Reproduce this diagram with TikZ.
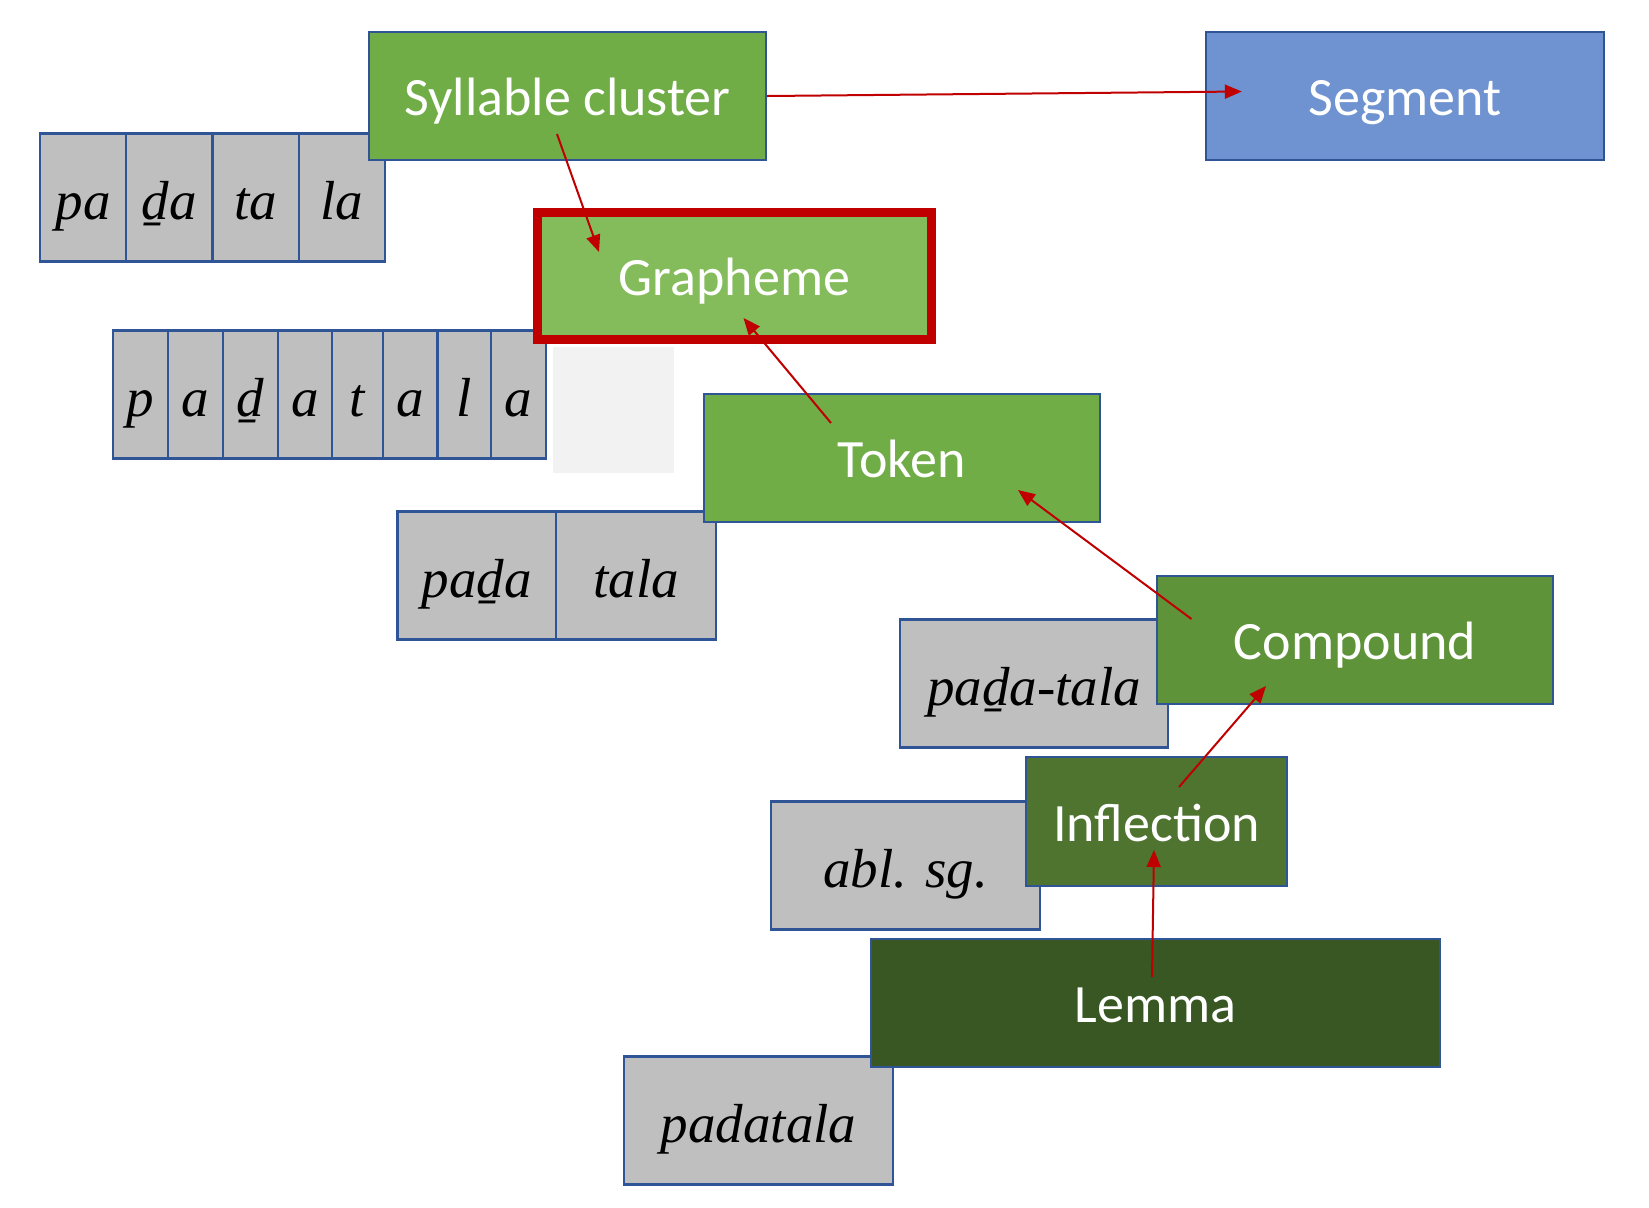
\documentclass[tikz,border=0pt]{standalone}
\usepackage{fontspec}
\setmainfont{Liberation Serif}
\newfontfamily\levelfont{Carlito}
\usetikzlibrary{calc}
\usetikzlibrary{arrows.meta}
\definecolor{edgeBlue}{HTML}{2F5597}
\definecolor{wordGray}{HTML}{BFBFBF}
\definecolor{patchGray}{HTML}{F2F2F2}
\definecolor{linkRed}{HTML}{C00000}
\definecolor{greenMid}{HTML}{70AD47}
\definecolor{greenLight}{HTML}{84BC5B}
\definecolor{greenComp}{HTML}{5E9339}
\definecolor{greenInfl}{HTML}{4E7430}
\definecolor{greenDark}{HTML}{385723}
\definecolor{segBlue}{HTML}{6F92D0}
\tikzstyle{levelnode} = [draw=edgeBlue, line width=1.2pt, rectangle, inner sep=0pt, minimum width=198pt, minimum height=64pt, text=white, font=\levelfont\fontsize{27}{32}\selectfont, text height=19.7pt, text depth=0pt]
\tikzstyle{wordnode} = [draw=edgeBlue, line width=1.2pt, rectangle, fill=wordGray, inner sep=0pt, minimum height=64pt, font=\fontsize{27.5}{33}\selectfont\itshape, text height=22pt, text depth=0pt]
\tikzstyle{link} = [draw=linkRed, line width=1pt, -{Triangle[length=8.5pt,width=7pt]}]

\begin{document}
\begin{tikzpicture}[x=0.5pt, y=-0.5pt]
    \useasboundingbox (0,0) rectangle (1649,1207);

    \node[wordnode, minimum width=43.125pt] (syl_pa) at (83.1,197.5) {pa};
    \node[wordnode, minimum width=43.125pt] (syl_da) at ($(syl_pa)+(86.25,0)$) {ḏa};
    \node[wordnode, minimum width=43.125pt] (syl_ta) at ($(syl_da)+(86.25,0)$) {ta};
    \node[wordnode, minimum width=43.125pt] (syl_la) at ($(syl_ta)+(86.25,0)$) {la};

    \node[wordnode, minimum width=27.5pt] (gr_p) at (140.5,394.5) {p};
    \node[wordnode, minimum width=27.5pt] (gr_a1) at ($(gr_p)+(55,0)$) {a};
    \node[wordnode, minimum width=27.5pt] (gr_d) at ($(gr_a1)+(55,0)$) {ḏ};
    \node[wordnode, minimum width=27pt] (gr_a2) at ($(gr_d)+(54.5,0)$) {a};
    \node[wordnode, minimum width=25.5pt] (gr_t) at ($(gr_a2)+(52.5,0)$) {t};
    \node[wordnode, minimum width=27.25pt] (gr_a3) at ($(gr_t)+(52.75,0)$) {a};
    \node[wordnode, minimum width=26.75pt] (gr_l) at ($(gr_a3)+(54,0)$) {l};
    \node[wordnode, minimum width=27.5pt] (gr_a4) at ($(gr_l)+(54.25,0)$) {a};
    \node[fill=patchGray, inner sep=0pt, minimum width=60.5pt, minimum height=63pt] (blank) at (613.5,410) {};

    \node[wordnode, minimum width=79.25pt] (tok_pada) at (476.75,575.5) {paḏa};
    \node[wordnode, minimum width=80pt] (tok_tala) at ($(tok_pada)+(159.25,0)$) {tala};
    \node[wordnode, minimum width=134pt] (comp_word) at (1034,683.5) {paḏa-tala};
    \node[wordnode, minimum width=134.5pt] (infl_word) at (905.5,865.5) {abl. sg.};
    \node[wordnode, minimum width=134.5pt] (lemma_word) at (758.5,1120.5) {padatala};

    \node[levelnode, fill=greenMid, minimum width=198.5pt] (syllable) at (567.5,96) {Syllable cluster};
    \node[levelnode, fill=segBlue, minimum width=199pt] (segment) at ($(syllable)+(837.5,0)$) {Segment};
    \node[levelnode, fill=greenLight, draw=linkRed, line width=4.5pt, minimum width=197pt, minimum height=63.5pt] (grapheme) at ($(syllable)+(167,180)$) {Grapheme};
    \node[levelnode, fill=greenMid] (token) at ($(grapheme)+(167.5,182)$) {Token};
    \node[levelnode, fill=greenComp] (compound) at ($(token)+(453,182)$) {Compound};
    \node[levelnode, fill=greenInfl, minimum width=130.5pt, minimum height=64.5pt] (inflection) at ($(compound)+(-198.5,181.5)$) {Inflection};
    \node[levelnode, fill=greenDark, minimum width=284.5pt] (lemma) at ($(inflection)+(-1,181.5)$) {Lemma};

    \draw[link] (syllable.east) -- ($(segment.west)+(37,-4.5)$);
    \draw[link] ($(syllable)+(-10.5,38)$) -- ($(grapheme)+(-135.5,-24)$);
    \draw[link] ($(token)+(-71,-35)$) -- ($(grapheme)+(9,42)$);
    \draw[link] ($(compound)+(-163.5,-21)$) -- ($(token)+(116,32)$);
    \draw[link] ($(inflection)+(22.5,-34.5)$) -- ($(compound)+(-89,46)$);
    \draw[link] ($(lemma)+(-3.5,-26)$) -- ($(inflection)+(-2.5,28.5)$);
\end{tikzpicture}
\end{document}
